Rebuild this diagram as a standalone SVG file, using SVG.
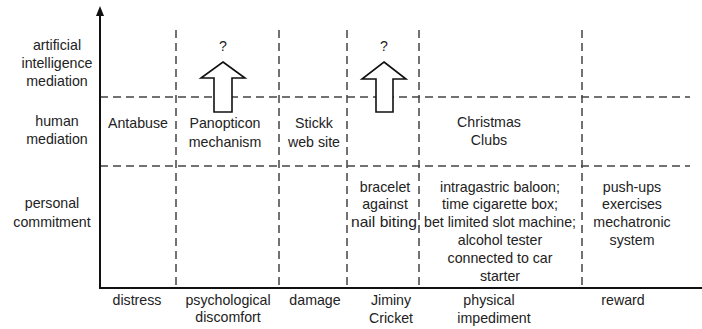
<svg xmlns="http://www.w3.org/2000/svg" width="702" height="329" viewBox="0 0 702 329">
<defs>
<style>
text{font-family:"Liberation Sans",Arial,sans-serif;font-size:14.2px;fill:#222;text-anchor:middle}
.dash{stroke:#444;stroke-width:1.5;stroke-dasharray:8 5;fill:none}
.axis{stroke:#111;stroke-width:2;fill:none}
.blk{fill:#fff;stroke:#111;stroke-width:1.6;stroke-linejoin:miter}
</style>
</defs>
<rect width="702" height="329" fill="#fff"/>
<g id="connectors">
<line class="dash" x1="100" y1="97" x2="690" y2="97"/>
<line class="dash" x1="100" y1="166" x2="690" y2="166"/>
<line class="dash" x1="176" y1="30" x2="176" y2="288"/>
<line class="dash" x1="279" y1="30" x2="279" y2="288"/>
<line class="dash" x1="347" y1="30" x2="347" y2="288"/>
<line class="dash" x1="419" y1="30" x2="419" y2="288"/>
<line class="dash" x1="582" y1="30" x2="582" y2="288"/>
<line class="axis" x1="100" y1="288" x2="100" y2="9"/>
<path d="M96,16 L100,6 L104,16 Z" fill="#111"/>
<line class="axis" x1="99" y1="288" x2="702" y2="288"/>
</g>
<g id="arrow1">
<path class="blk" d="M223,62 L245,78 L232,78 L232,112 L214,112 L214,78 L201,78 Z"/>
<text x="223" y="51">?</text>
</g>
<g id="arrow2">
<path class="blk" d="M384,62 L406,79 L393,79 L393,112 L376,112 L376,79 L362,79 Z"/>
<text x="384" y="51">?</text>
</g>
<g id="ylabels">
<text x="57" y="50">artificial</text>
<text x="57" y="68">intelligence</text>
<text x="57" y="86">mediation</text>
<text x="57" y="126">human</text>
<text x="57" y="144">mediation</text>
<text x="52" y="208">personal</text>
<text x="52" y="227">commitment</text>
</g>
<g id="xlabels">
<text x="137" y="305">distress</text>
<text x="228" y="305">psychological</text>
<text x="228" y="322">discomfort</text>
<text x="315" y="305">damage</text>
<text x="391" y="305">Jiminy</text>
<text x="391" y="323">Cricket</text>
<text x="489" y="305">physical</text>
<text x="494" y="323">impediment</text>
<text x="623" y="305">reward</text>
</g>
<g id="antabuse"><text x="138" y="128">Antabuse</text></g>
<g id="panopticon"><text x="225" y="128">Panopticon</text><text x="225" y="147">mechanism</text></g>
<g id="stickk"><text x="314" y="128">Stickk</text><text x="314" y="147">web site</text></g>
<g id="christmas"><text x="489" y="127">Christmas</text><text x="489" y="145">Clubs</text></g>
<g id="bracelet"><text x="385" y="192">bracelet</text><text x="385" y="209">against</text><text x="384" y="227" textLength="66" lengthAdjust="spacingAndGlyphs">nail biting</text></g>
<g id="physical"><text x="500" y="192">intragastric baloon;</text><text x="500" y="209">time cigarette box;</text><text x="500" y="227" textLength="152" lengthAdjust="spacingAndGlyphs">bet limited slot machine;</text><text x="500" y="245">alcohol tester</text><text x="500" y="263">connected to car</text><text x="500" y="281">starter</text></g>
<g id="reward"><text x="632" y="192">push-ups</text><text x="632" y="209">exercises</text><text x="632" y="227">mechatronic</text><text x="632" y="245">system</text></g>
</svg>
